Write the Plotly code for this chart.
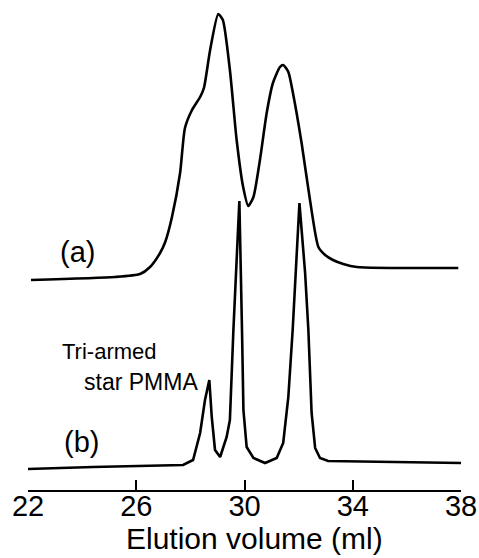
import plotly.graph_objects as go

# Elution volume (ml) and detector response (arbitrary units, stacked traces)
vol_a = [22.11, 25.22, 26.14, 26.51, 26.88, 27.07, 27.32, 27.62, 27.80, 28.06, 28.36, 28.50,
         28.73, 29.03, 29.20, 29.46, 29.71, 29.95, 30.14, 30.33, 30.57, 30.82, 31.05, 31.31,
         31.43, 31.62, 31.79, 32.11, 32.42, 32.73, 32.98, 33.27, 33.65, 34.15, 37.90]
resp_a = [210, 213, 216, 223, 237, 248, 273, 317, 362, 380, 393, 402,
          440, 476, 470, 420, 350, 303, 284, 293, 330, 377, 407, 423,
          425, 418, 397, 347, 290, 243, 235, 230, 226, 223, 222]

vol_b = [22.00, 24.40, 27.73, 28.10, 28.36, 28.54, 28.70, 28.79, 28.91, 29.10, 29.34, 29.46,
         29.59, 29.81, 29.91, 29.96, 30.08, 30.33, 30.76, 31.19, 31.43, 31.62, 31.78, 32.03,
         32.24, 32.36, 32.48, 32.61, 32.79, 33.09, 38.00]
resp_b = [21, 23, 25, 30, 57, 90, 110, 73, 40, 33, 53, 70,
          160, 289, 157, 80, 43, 32, 27, 32, 47, 93, 160, 287,
          217, 160, 77, 42, 32, 29, 27]

tick_vals = [22, 26, 30, 34, 38]
tick_text = ["22", "26", "30", "34", "38"]

FONT = "Liberation Sans, Arial, Helvetica, sans-serif"

fig = go.Figure()
fig.add_trace(go.Scatter(x=vol_a, y=resp_a, mode="lines",
                         line=dict(color="black", width=2.6, shape="spline", smoothing=0.6),
                         name="(a)", showlegend=False, hoverinfo="x+y"))
fig.add_trace(go.Scatter(x=vol_b, y=resp_b, mode="lines",
                         line=dict(color="black", width=2.6),
                         name="(b)", showlegend=False, hoverinfo="x+y"))

ann_font = dict(family=FONT, color="black")
fig.add_annotation(x=23.83, y=238.5, xref="x", yref="y", text="(a)", showarrow=False,
                   xanchor="center", yanchor="middle", font=dict(size=29, **ann_font))
fig.add_annotation(x=23.98, y=48, xref="x", yref="y", text="(b)", showarrow=False,
                   xanchor="center", yanchor="middle", font=dict(size=29, **ann_font))
fig.add_annotation(x=23.18, y=138.5, xref="x", yref="y", text="Tri-armed", showarrow=False,
                   xanchor="left", yanchor="middle", font=dict(size=22, **ann_font))
fig.add_annotation(x=24.0, y=108.5, xref="x", yref="y", text="star PMMA", showarrow=False,
                   xanchor="left", yanchor="middle", font=dict(size=23, **ann_font))
fig.add_annotation(x=0.523, y=-0.1, xref="paper", yref="paper", text="Elution volume (ml)",
                   showarrow=False, xanchor="center", yanchor="middle",
                   font=dict(size=30, **ann_font))

fig.update_xaxes(range=[22, 38], tickvals=tick_vals, ticktext=tick_text,
                 ticks="inside", ticklen=10, tickwidth=2, tickcolor="black",
                 showline=True, linewidth=2, linecolor="black",
                 showgrid=False, zeroline=False, ticklabelstandoff=-11,
                 automargin=False,
                 tickfont=dict(family=FONT, size=29, color="black"))
fig.update_yaxes(range=[0, 480], visible=False, showgrid=False, zeroline=False,
                 automargin=False)

fig.update_layout(width=479, height=558, autosize=False,
                  margin=dict(l=28, r=18, t=10, b=68, pad=0, autoexpand=False),
                  paper_bgcolor="white", plot_bgcolor="white",
                  showlegend=False)

fig.write_html("out.html",
               config={"displayModeBar": False, "responsive": False},
               post_script="document.body.style.margin='0';"
                           "document.body.style.overflow='hidden';")
